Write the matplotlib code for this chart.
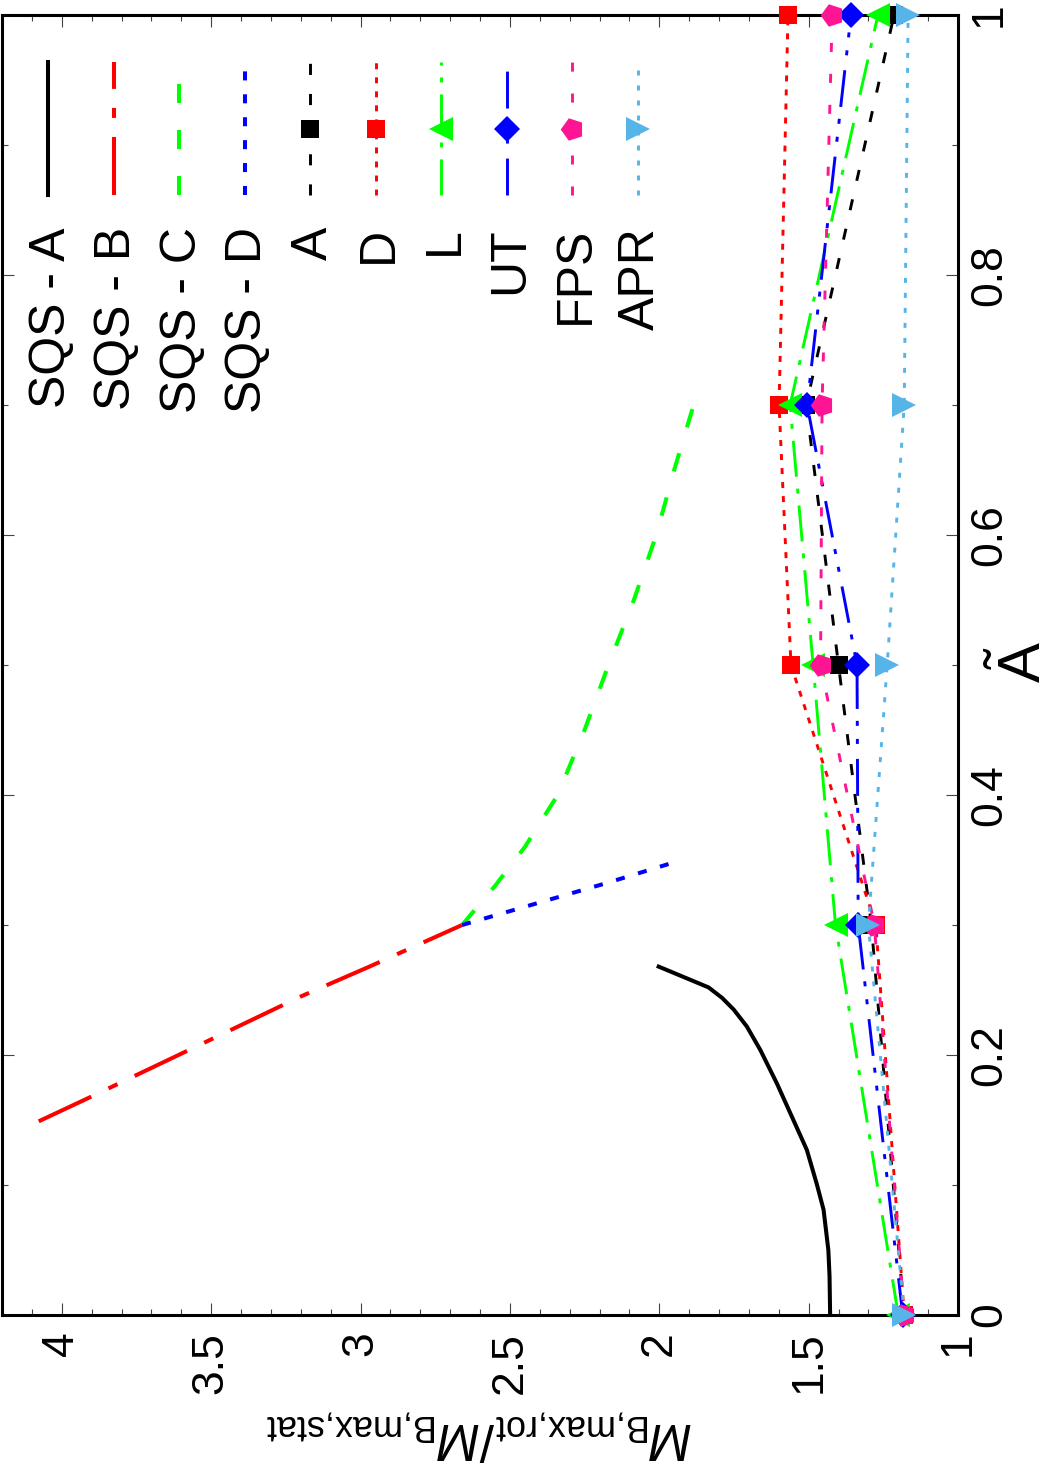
import numpy as np
import matplotlib
matplotlib.use("Agg")
import matplotlib.pyplot as plt
from matplotlib.ticker import MultipleLocator, FuncFormatter

plt.rcParams['font.family'] = ['Liberation Sans', 'DejaVu Sans']
plt.rcParams['mathtext.fontset'] = 'custom'
plt.rcParams['mathtext.rm'] = 'Liberation Sans'
plt.rcParams['mathtext.it'] = 'Liberation Sans:italic'
plt.rcParams['lines.scale_dashes'] = False

# the figure is drawn turned by 90 degrees (like the original print):
# ratio runs right -> left, A~ runs bottom -> top

# SQS curves
sqsA_at = [0, 0.03, 0.05, 0.081, 0.101, 0.127, 0.150, 0.178, 0.204, 0.222, 0.235, 0.244, 0.252, 0.268]
sqsA_r = [1.428, 1.430, 1.434, 1.450, 1.473, 1.506, 1.551, 1.606, 1.662, 1.707, 1.751, 1.790, 1.835, 2.002]
sqsB_at = [0.149, 0.167, 0.201, 0.245, 0.268, 0.30]
sqsB_r = [4.077, 3.91, 3.60, 3.20, 2.97, 2.66]
sqsC_at = [0.30, 0.33, 0.36, 0.40, 0.45, 0.50, 0.55, 0.60, 0.65, 0.70]
sqsC_r = [2.66, 2.55, 2.45, 2.34, 2.25, 2.17, 2.085, 2.01, 1.95, 1.885]
sqsD_at = [0.30, 0.318, 0.332, 0.35]
sqsD_r = [2.66, 2.39, 2.18, 1.925]

# EOS points
eos_at = [0, 0.3, 0.5, 0.7, 1.0]
ratio_A = [1.18, 1.29, 1.40, 1.508, 1.214]
ratio_D = [1.18, 1.275, 1.559, 1.599, 1.569]
ratio_L = [1.20, 1.41, 1.485, 1.562, 1.268]
ratio_UT = [1.185, 1.334, 1.338, 1.505, 1.358]
ratio_FPS = [1.18, 1.28, 1.46, 1.455, 1.421]
ratio_APR = [1.18, 1.30, 1.237, 1.18, 1.167]

names = ['SQS - A', 'SQS - B', 'SQS - C', 'SQS - D', 'A', 'D', 'L', 'UT', 'FPS', 'APR']

W, H = 1055, 1465
fig = plt.figure(figsize=(W / 100, H / 100), dpi=100)
ax = fig.add_axes([2 / W, (H - 1315) / H, 956 / W, 1300 / H])

sqs_styles = [
    dict(color='black', ls='-', lw=2.9),
    dict(color='red', ls=(0, (41.8, 13.7, 7.2, 13.7)), lw=2.9),
    dict(color='#00ff00', ls=(0, (13.7, 19.4)), lw=2.9),
    dict(color='blue', ls=(0, (6.5, 10)), lw=2.9),
]
eos_styles = [
    dict(color='black', ls=(0, (8, 13.7)), marker='s', ms=13),
    dict(color='red', ls=(0, (4.3, 5.8)), marker='s', ms=13),
    dict(color='#00ff00', ls=(0, (26, 8.6, 3.6, 8.6)), marker='<', ms=17.5),
    dict(color='blue', ls=(0, (26.6, 10.8, 3.6, 9.4, 3.6, 8.6)), marker='D', ms=13),
    dict(color='#ff1493', ls=(0, (6.5, 15.8)), marker=(5, 0, 90), ms=17),
    dict(color='#56b4e9', ls=(0, (3.6, 7.2)), marker='>', ms=17.5),
]

sqs_data = [(sqsA_r, sqsA_at), (sqsB_r, sqsB_at), (sqsC_r, sqsC_at), (sqsD_r, sqsD_at)]
for (r, a), st in zip(sqs_data, sqs_styles):
    ax.plot(r, a, color=st['color'], ls=st['ls'], lw=st['lw'], solid_joinstyle='round')

eos_data = [ratio_A, ratio_D, ratio_L, ratio_UT, ratio_FPS, ratio_APR]
for i, (r, st) in enumerate(zip(eos_data, eos_styles)):
    ax.plot(r, eos_at, color=st['color'], ls=st['ls'], lw=2.1, marker=st['marker'],
            ms=st['ms'], mec=st['color'], mfc=st['color'], mew=0,
            clip_on=False, zorder=5 + i)

ax.set_xlim(4.2, 1)
ax.set_ylim(0, 1)

# legend drawn by hand, turned like the rest
styles = sqs_styles + eos_styles
y0, y1 = (1315 - 195) / 1300, (1315 - 62) / 1300
ym = (1315 - 129) / 1300
yt = (1315 - 227) / 1300
for i, (name, st) in enumerate(zip(names, styles)):
    xc = (48 + i * 65.5 - 2) / 956
    lw = st.get('lw', 2.1)
    ax.plot([xc, xc], [y0, y1], color=st['color'], ls=st['ls'], lw=lw,
            transform=ax.transAxes, clip_on=False)
    if 'marker' in st:
        ax.plot([xc], [ym], color=st['color'], marker=st['marker'], ms=st['ms'],
                mew=0, ls='none', transform=ax.transAxes, clip_on=False, zorder=6)
    ax.text(xc + 0.004, yt, name, rotation=90, ha='center', va='top',
            fontsize=36, transform=ax.transAxes)

fmt = FuncFormatter(lambda v, p: '%g' % round(v, 3))
ax.xaxis.set_major_locator(MultipleLocator(0.5))
ax.xaxis.set_minor_locator(MultipleLocator(0.1))
ax.yaxis.set_major_locator(MultipleLocator(0.2))
ax.yaxis.set_minor_locator(MultipleLocator(0.1))
ax.xaxis.set_major_formatter(fmt)
ax.yaxis.set_major_formatter(fmt)
ax.tick_params(which='both', direction='in', top=True, bottom=True, left=True, right=True,
               labelleft=False, labelright=True, width=0.8, color='#444444')
ax.tick_params(which='major', length=8.6)
ax.tick_params(which='minor', length=4.3)
ax.tick_params(axis='x', labelsize=32, pad=12, labelrotation=90)
ax.tick_params(axis='y', labelsize=32, pad=8, labelrotation=90)
for lab in ax.get_xticklabels():
    lab.set_va('top')
    lab.set_ha('center')
for lab in ax.get_yticklabels():
    lab.set_ha('left')
    lab.set_va('center')
for sp in ax.spines.values():
    sp.set_linewidth(2.2)

fig.text(993 / W, 1 - 662 / H, r'$\tilde{\rm A}$', rotation=90, ha='left', va='center',
         fontsize=43)
fig.text(480 / W, 1 - 1408 / H, r'$M_{\rm B{,}max{,}rot}/M_{\rm B{,}max{,}stat}$', rotation=180,
         ha='center', va='top', fontsize=37)

fig.savefig('out.png', dpi=100)
